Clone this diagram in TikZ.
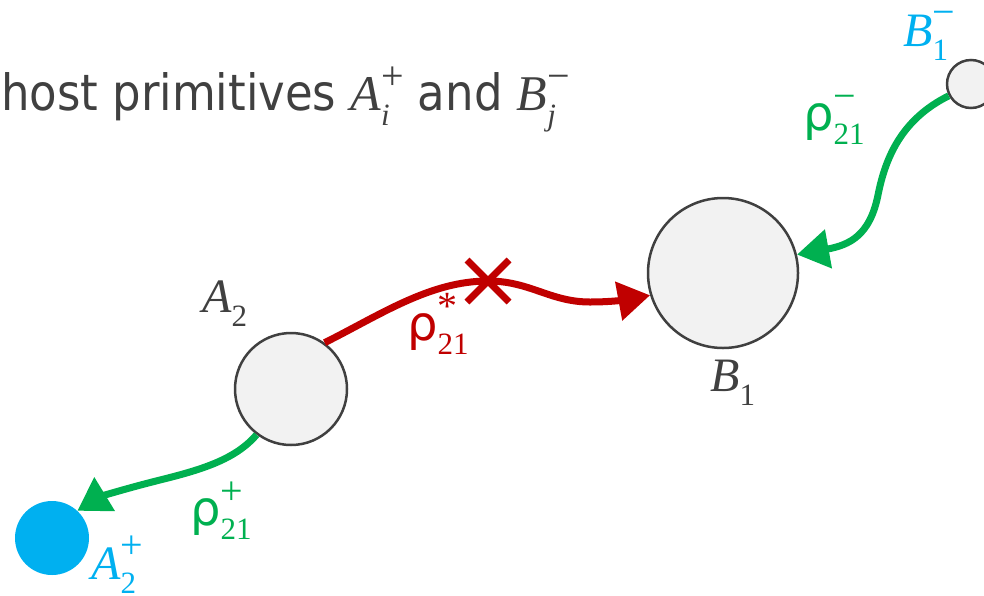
\documentclass[tikz,border=0pt]{standalone}
\usepackage{fontspec}
\setmainfont{Liberation Serif}
\newfontfamily\titlefont{DejaVu Sans Condensed}
\newfontfamily\rhofont{DejaVu Sans}
\usetikzlibrary{arrows.meta}
\definecolor{txtgray}{HTML}{404040}
\definecolor{cblue}{HTML}{00B0F0}
\definecolor{cgreen}{HTML}{00B050}
\definecolor{cred}{HTML}{C00000}
\definecolor{cfill}{HTML}{F2F2F2}
\newcommand\scr{\rmfamily\upshape\fontsize{31}{31}\selectfont}
\newcommand\scrsup{\rmfamily\upshape\fontsize{40}{40}\selectfont}
\newcommand\ssb[3]{#1\sbox0{\scr #2}\sbox2{\scrsup #3}%
  \makebox[\ifdim\wd0>\wd2 \wd0\else\wd2\fi][l]{\rlap{\raisebox{0.42em}[0.84em][0pt]{\usebox2}}\raisebox{-0.3em}[0.3em][0.22em]{\usebox0}}}
\newcommand\myit{\rmfamily\itshape}
\tikzset{
  prim/.style={circle, draw=txtgray, fill=cfill, line width=2.5pt, inner sep=0pt},
  lbl/.style={inner sep=0pt, anchor=base west, font=\fontsize{48}{52}\selectfont},
  link/.style={line width=7pt, -{Triangle[length=32pt,width=38pt]}},
  xmark/.style={line width=7pt},
}
\begin{document}
\begin{tikzpicture}[x=1pt,y=-1pt]
\useasboundingbox (0,0) rectangle (984,595);
% title
\node[anchor=base west, inner sep=0pt, text=txtgray] (title) at (1,110)
  {\titlefont\fontsize{50}{56}\selectfont host primitives \ssb{{\myit A}}{{\myit i}}{+} and \ssb{{\myit B}}{{\myit j}}{−}};
% circles
\node[prim, minimum size=112pt] (A2) at (291,389) {};
\node[prim, minimum size=150pt] (B1) at (723,273) {};
\node[prim, minimum size=48pt] (B1m) at (971,84) {};
\node[circle, fill=cblue, inner sep=0pt, minimum size=74pt] (A2p) at (52,538) {};
% labels
\node[lbl, text=txtgray] (lA2) at (202,312) {\ssb{{\myit A}}{2}{}};
\node[lbl, text=txtgray] (lB1) at (710,391) {\ssb{{\myit B}}{1}{}};
\node[lbl, text=cblue] (lB1m) at (903,46) {\ssb{{\myit B}}{1}{−}};
\node[lbl, text=cblue] (lA2p) at (91,579) {\ssb{{\myit A}}{2}{+}};
\node[lbl, text=cgreen] (rm) at (803,130) {\ssb{\rhofont ρ}{21}{−}};
\node[lbl, text=cred] (rs) at (407,340) {\ssb{\rhofont ρ}{21}{*}};
\node[lbl, text=cgreen] (rp) at (190,525) {\ssb{\rhofont ρ}{21}{+}};
% connectors
\coordinate (X) at (488,281);
\draw[link, cred] (A2.54) .. controls (380,315) and (430,281) .. (X)
  .. controls (530,281) and (550,302) .. (590,302)
  .. controls (615,302) and (630,299) .. (B1.197);
\draw[cred, xmark] (X) ++(-21,-21) -- ++(42,42);
\draw[cred, xmark] (X) ++(-21,21) -- ++(42,-42);
\draw[link, cgreen] (B1m.208) .. controls (900,120) and (885,160) .. (878,195)
  .. controls (870,235) and (850,245) .. (B1.14);
\draw[link, cgreen] (A2.233) .. controls (235,460) and (200,470) .. (160,480)
  .. controls (120,490) and (100,497) .. (A2p.47);
\end{tikzpicture}
\end{document}
